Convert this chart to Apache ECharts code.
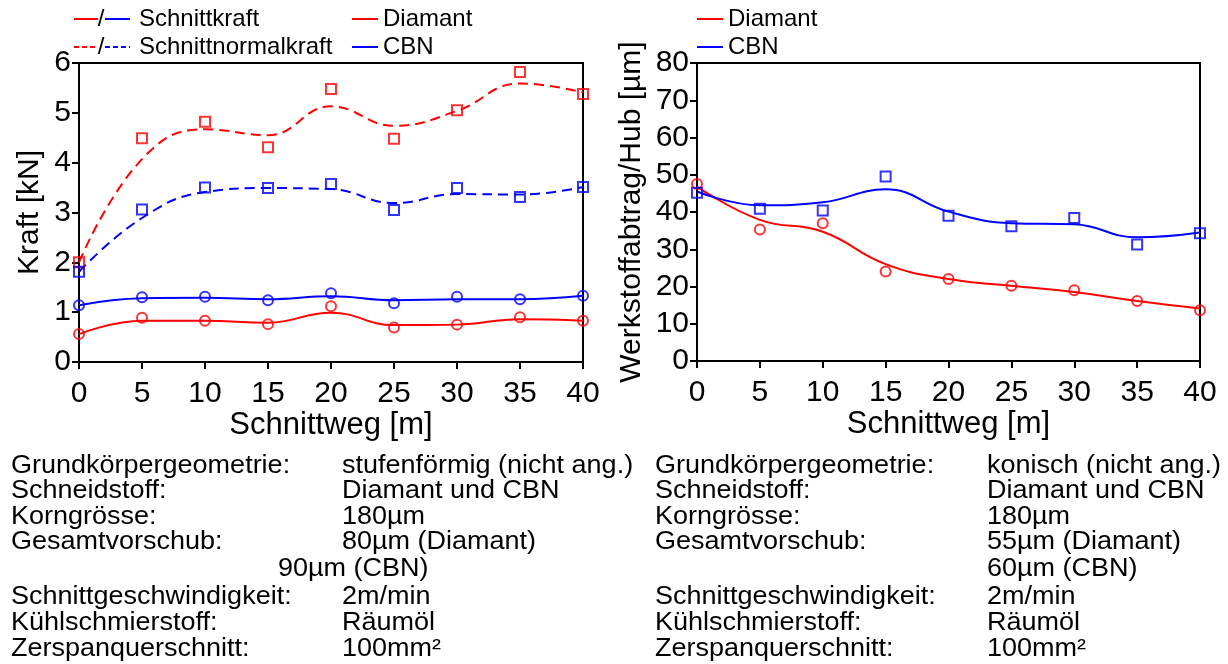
<!DOCTYPE html>
<html><head><meta charset="utf-8">
<script src="https://cdn.jsdelivr.net/npm/echarts@6/dist/echarts.min.js"></script>
<style>html,body{margin:0;padding:0;background:#fff}#c{width:1228px;height:664px}</style>
</head><body><div id="c"></div>
<script>
// ---------- data ----------
const schnittweg = [0, 5, 10, 15, 20, 25, 30, 35, 40];

// left chart: Kraft [kN] (measured points)
const diaSchnittkraft  = [0.56, 0.89, 0.83, 0.76, 1.12, 0.69, 0.75, 0.90, 0.83];
const cbnSchnittkraft  = [1.14, 1.30, 1.31, 1.24, 1.38, 1.18, 1.31, 1.26, 1.33];
const diaNormalkraft   = [2.00, 4.49, 4.82, 4.31, 5.48, 4.48, 5.05, 5.82, 5.38];
const cbnNormalkraft   = [1.81, 3.06, 3.50, 3.49, 3.57, 3.05, 3.49, 3.31, 3.51];
// left chart: smoothed trend curves
const diaSchnittkraftFit = [0.56, 0.83, 0.83, 0.79, 0.99, 0.74, 0.75, 0.86, 0.83];
const cbnSchnittkraftFit = [1.14, 1.28, 1.29, 1.26, 1.32, 1.24, 1.26, 1.26, 1.33];
const diaNormalkraftFit  = [2.00, 4.07, 4.67, 4.55, 5.13, 4.74, 5.04, 5.59, 5.41];
const cbnNormalkraftFit  = [1.81, 2.89, 3.41, 3.49, 3.47, 3.19, 3.37, 3.36, 3.51];

// right chart: Werkstoffabtrag/Hub [µm]
const diaAbtrag    = [47.5, 35.3, 37.0, 24.0, 22.0, 20.2, 19.0, 16.1, 13.6];
const cbnAbtrag    = [45.2, 40.9, 40.4, 49.5, 39.0, 36.2, 38.4, 31.3, 34.3];
const diaAbtragFit = [46.8, 37.9, 34.7, 26.0, 22.0, 20.2, 18.5, 16.1, 14.1];
const cbnAbtragFit = [45.5, 41.8, 42.6, 46.1, 40.1, 37.0, 36.7, 33.2, 34.5];

// parameter tables
const paramLabels = ['Grundkörpergeometrie:', 'Schneidstoff:', 'Korngrösse:', 'Gesamtvorschub:', '', 'Schnittgeschwindigkeit:', 'Kühlschmierstoff:', 'Zerspanquerschnitt:'];
const leftValues  = ['stufenförmig (nicht ang.)', 'Diamant und CBN', '180µm', '80µm (Diamant)', '90µm (CBN)', '2m/min', 'Räumöl', '100mm²'];
const rightValues = ['konisch (nicht ang.)', 'Diamant und CBN', '180µm', '55µm (Diamant)', '60µm (CBN)', '2m/min', 'Räumöl', '100mm²'];

// ---------- styling ----------
const RED = '#ff0000', BLUE = '#0000ff';
const FONT = 'Liberation Sans, Arial, sans-serif';
const pairs = arr => arr.map((v, i) => [schnittweg[i], v]);

function xAxisCfg(gi) {
  return {
    gridIndex: gi, type: 'value', min: 0, max: 40, interval: 5,
    name: 'Schnittweg [m]', nameLocation: 'middle', nameGap: 46,
    nameTextStyle: {color: '#000', fontSize: 31, fontFamily: FONT},
    axisLine: {show: true, onZero: false, lineStyle: {color: '#000', width: 2}},
    axisTick: {show: true, inside: false, length: 7, lineStyle: {color: '#000', width: 2}},
    axisLabel: {color: '#000', fontSize: 30, fontFamily: FONT, margin: 17},
    splitLine: {show: false}
  };
}
function yAxisCfg(gi, max, interval, name, gap) {
  return {
    gridIndex: gi, type: 'value', min: 0, max: max, interval: interval,
    name: name, nameLocation: 'middle', nameGap: gap,
    nameTextStyle: {color: '#000', fontSize: 30, fontFamily: FONT},
    axisLine: {show: true, onZero: false, lineStyle: {color: '#000', width: 2}},
    axisTick: {show: true, inside: false, length: 7, lineStyle: {color: '#000', width: 2}},
    axisLabel: {color: '#000', fontSize: 30, fontFamily: FONT, margin: 8},
    splitLine: {show: false}
  };
}
function fitLine(name, data, color, gi, dashed) {
  return {
    name: name, type: 'line', xAxisIndex: gi, yAxisIndex: gi,
    data: pairs(data), smooth: 0.45, showSymbol: false, color: color,
    lineStyle: {color: color, width: 2, type: dashed ? [10, 6] : 'solid'},
    z: 2, silent: true
  };
}
function points(name, data, color, gi, symbol, size) {
  return {
    name: name, type: 'scatter', xAxisIndex: gi, yAxisIndex: gi,
    data: pairs(data), symbol: symbol, symbolSize: size, color: color,
    itemStyle: {color: 'rgba(0,0,0,0)', borderColor: color, borderWidth: 2},
    z: 3, silent: true
  };
}

// ---------- graphic: custom legend + parameter tables ----------
const graphics = [];
function gLine(x1, x2, y, color, dashed) {
  graphics.push({type: 'line', shape: {x1: x1, y1: y, x2: x2, y2: y},
    style: {stroke: color, lineWidth: 2, lineDash: dashed ? [5, 3] : null}});
}
function gText(x, y, text, size, align, sx) {
  graphics.push({type: 'text', x: x, y: y, scaleX: sx || 1,
    style: {text: text, fill: '#000', font: size + 'px ' + FONT, textAlign: align || 'left', textVerticalAlign: 'middle'}});
}
// legend rows for force type
gLine(74, 98, 19, RED, false); gText(101, 19, '/', 24, 'center'); gLine(105, 130, 19, BLUE, false); gText(139, 19, 'Schnittkraft', 24);
gLine(74, 98, 47, RED, true);  gText(101, 47, '/', 24, 'center'); gLine(105, 130, 47, BLUE, true);  gText(139, 47, 'Schnittnormalkraft', 24);

const rowY = [466, 491, 517, 542, 569, 597, 623, 649];
const SX = 1.08;
paramLabels.forEach((t, i) => { if (t) { gText(11, rowY[i], t, 25, 'left', SX); gText(655, rowY[i], t, 25, 'left', SX); } });
leftValues.forEach((t, i) => gText(i === 4 ? 278 : 342, rowY[i], t, 25, 'left', SX));
rightValues.forEach((t, i) => gText(987, rowY[i], t, 25, 'left', SX));

// ---------- chart ----------
const chart = echarts.init(document.getElementById('c'), null, {renderer: 'canvas'});
chart.setOption({
  backgroundColor: '#fff',
  animation: false,
  textStyle: {fontFamily: FONT},
  grid: [
    {left: 79, top: 63, width: 504, height: 299, show: true, borderColor: '#000', borderWidth: 2, backgroundColor: 'transparent'},
    {left: 697, top: 63, width: 503, height: 298, show: true, borderColor: '#000', borderWidth: 2, backgroundColor: 'transparent'}
  ],
  legend: [
    {data: ['Diamant', 'CBN'], left: 352, top: 7, orient: 'vertical', icon: 'rect', itemWidth: 26, itemHeight: 2, itemGap: 4, padding: 0,
     textStyle: {color: '#000', fontSize: 24, fontFamily: FONT}, selectedMode: false},
    {data: ['Diamant', 'CBN'], left: 697, top: 7, orient: 'vertical', icon: 'rect', itemWidth: 26, itemHeight: 2, itemGap: 4, padding: 0,
     textStyle: {color: '#000', fontSize: 24, fontFamily: FONT}, selectedMode: false}
  ],
  xAxis: [xAxisCfg(0), xAxisCfg(1)],
  yAxis: [yAxisCfg(0, 6, 1, 'Kraft [kN]', 34), yAxisCfg(1, 80, 10, 'Werkstoffabtrag/Hub [µm]', 50)],
  series: [
    fitLine('Diamant', diaSchnittkraftFit, RED, 0, false),
    fitLine('CBN', cbnSchnittkraftFit, BLUE, 0, false),
    fitLine('Diamant', diaNormalkraftFit, RED, 0, true),
    fitLine('CBN', cbnNormalkraftFit, BLUE, 0, true),
    points('Diamant Schnittkraft', diaSchnittkraft, RED, 0, 'circle', 10),
    points('CBN Schnittkraft', cbnSchnittkraft, BLUE, 0, 'circle', 10),
    points('Diamant Schnittnormalkraft', diaNormalkraft, RED, 0, 'rect', 10),
    points('CBN Schnittnormalkraft', cbnNormalkraft, BLUE, 0, 'rect', 10),
    fitLine('Diamant', diaAbtragFit, RED, 1, false),
    fitLine('CBN', cbnAbtragFit, BLUE, 1, false),
    points('Diamant Werkstoffabtrag', diaAbtrag, RED, 1, 'circle', 10),
    points('CBN Werkstoffabtrag', cbnAbtrag, BLUE, 1, 'rect', 10)
  ],
  graphic: graphics
});
</script>
</body></html>
